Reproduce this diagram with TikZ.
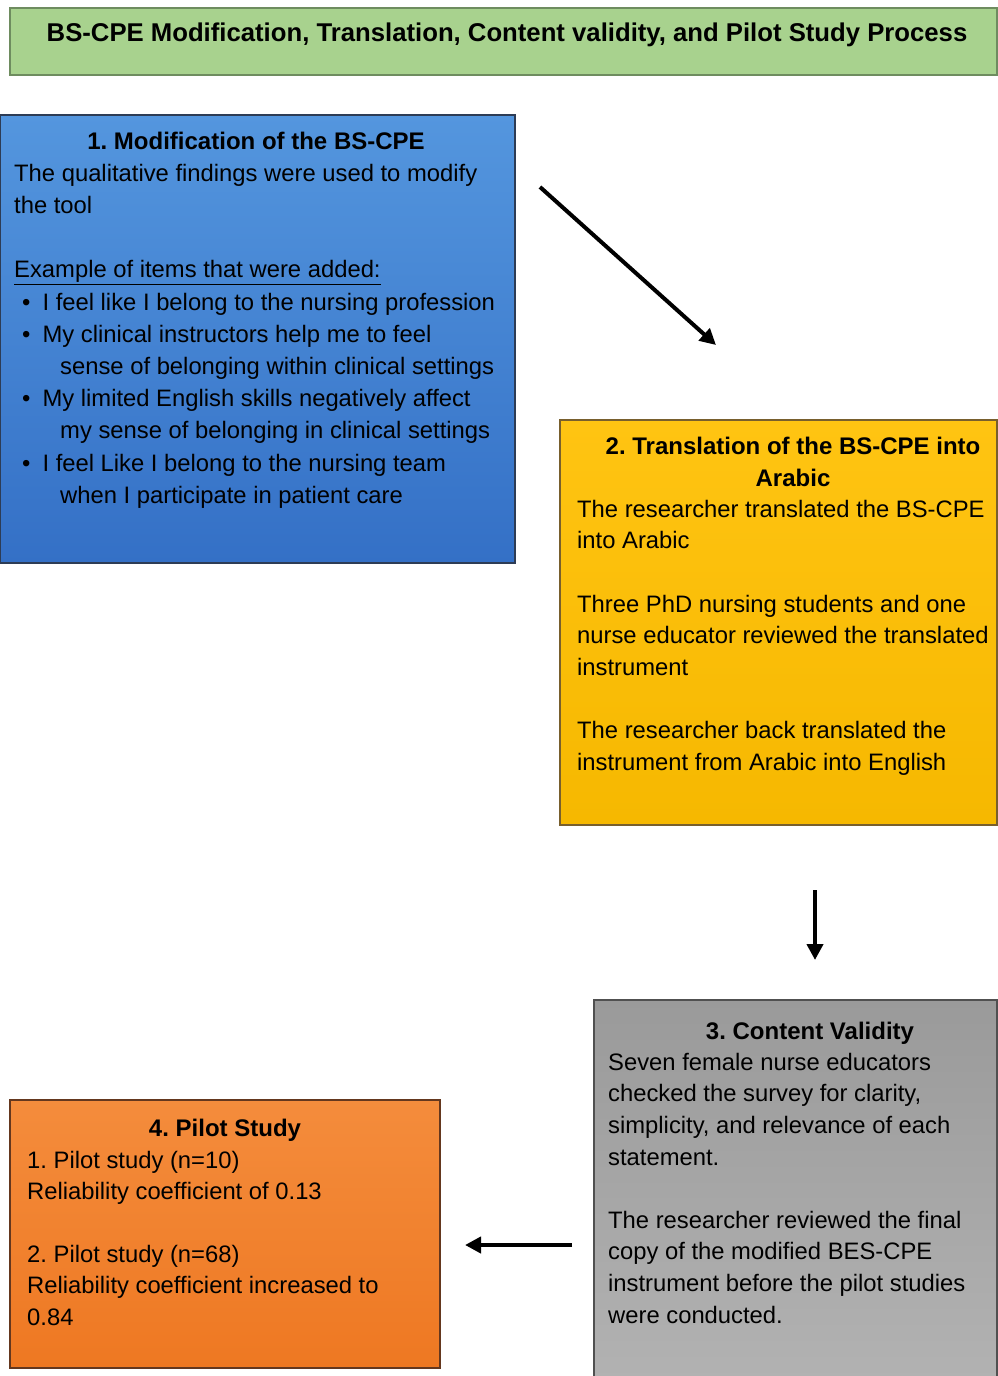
\documentclass[tikz,border=0pt]{standalone}
\usepackage{fontspec}
\setmainfont{Liberation Sans}
\usetikzlibrary{arrows.meta}
\frenchspacing

\definecolor{titlefill}{RGB}{168,210,142}
\definecolor{titledraw}{RGB}{110,140,95}
\definecolor{bluetop}{RGB}{84,150,222}
\definecolor{bluebot}{RGB}{52,112,198}
\definecolor{bluedraw}{RGB}{45,60,85}
\definecolor{yeltop}{RGB}{255,196,18}
\definecolor{yelbot}{RGB}{246,184,0}
\definecolor{yeldraw}{RGB}{120,95,45}
\definecolor{graytop}{RGB}{154,154,154}
\definecolor{graybot}{RGB}{178,178,178}
\definecolor{graydraw}{RGB}{80,80,80}
\definecolor{orgtop}{RGB}{244,140,60}
\definecolor{orgbot}{RGB}{238,120,34}
\definecolor{orgdraw}{RGB}{100,55,30}

\begin{document}
\begin{tikzpicture}[x=1pt,y=-1pt,
  panel/.style={draw, line width=1.5pt, inner sep=0pt, outer sep=0pt},
  heading/.style={font=\bfseries\fontsize{24}{32}\selectfont, inner sep=0pt, align=center, anchor=north},
  body/.style={font=\fontsize{23.8}{#1}\selectfont, inner sep=0pt, align=left, anchor=north west},
  flow/.style={line width=4pt, -{Triangle[length=16pt,width=16pt]}}
]
\useasboundingbox (0,0) rectangle (997,1376);

% title banner
\node[panel, draw=titledraw, fill=titlefill, minimum width=987pt, minimum height=67pt,
  anchor=north west] (title) at (10,8) {};
\node[font=\bfseries\fontsize{25.7}{30}\selectfont, inner sep=0pt, anchor=base] (titletext) at (507,41)
  {BS-CPE Modification, Translation, Content validity, and Pilot Study Process};

% step 1
\node[panel, draw=bluedraw, top color=bluetop, bottom color=bluebot,
  minimum width=515pt, minimum height=448pt, anchor=north west] (b1) at (0,115) {};
\node[heading] (h1) at (256,131) {\rule{0pt}{18pt}1. Modification of the BS-CPE};
\node[body=32.2] (t1) at (14,163) {\rule{0pt}{18pt}The qualitative findings were used to modify\\
the tool\\
\mbox{}\\
\underline{Example of items that were added:}\\
\hspace*{8pt}\textbullet\hspace{12pt}I feel like I belong to the nursing profession\\
\hspace*{8pt}\textbullet\hspace{12pt}My clinical instructors help me to feel\\
\hspace*{46pt}sense of belonging within clinical settings\\
\hspace*{8pt}\textbullet\hspace{12pt}My limited English skills negatively affect\\
\hspace*{46pt}my sense of belonging in clinical settings\\
\hspace*{8pt}\textbullet\hspace{12pt}I feel Like I belong to the nursing team\\
\hspace*{46pt}when I participate in patient care};

% step 2
\node[panel, draw=yeldraw, top color=yeltop, bottom color=yelbot,
  minimum width=437pt, minimum height=405pt, anchor=north west] (b2) at (560,420) {};
\node[heading] (h2) at (793,436) {\rule{0pt}{18pt}2. Translation of the BS-CPE into\\Arabic};
\node[body=31.6] (t2) at (577,499) {\rule{0pt}{18pt}The researcher translated the BS-CPE\\
into Arabic\\
\mbox{}\\
Three PhD nursing students and one\\
nurse educator reviewed the translated\\
instrument\\
\mbox{}\\
The researcher back translated the\\
instrument from Arabic into English};

% step 3
\node[panel, draw=graydraw, top color=graytop, bottom color=graybot,
  minimum width=403pt, minimum height=380pt, anchor=north west] (b3) at (594,1000) {};
\node[heading] (h3) at (810,1021) {\rule{0pt}{18pt}3. Content Validity};
\node[body=31.6] (t3) at (608,1052) {\rule{0pt}{18pt}Seven female nurse educators\\
checked the survey for clarity,\\
simplicity, and relevance of each\\
statement.\\
\mbox{}\\
The researcher reviewed the final\\
copy of the modified BES-CPE\\
instrument before the pilot studies\\
were conducted.};

% step 4
\node[panel, draw=orgdraw, top color=orgtop, bottom color=orgbot,
  minimum width=430pt, minimum height=268pt, anchor=north west] (b4) at (10,1100) {};
\node[heading] (h4) at (225,1118) {\rule{0pt}{18pt}4. Pilot Study};
\node[body=31.4] (t4) at (27,1150) {\rule{0pt}{18pt}1. Pilot study (n=10)\\
Reliability coefficient of 0.13\\
\mbox{}\\
2. Pilot study (n=68)\\
Reliability coefficient increased to\\
0.84};

% connectors between the steps
\coordinate (a1s) at (540,187);
\coordinate (a1e) at (716,345);
\coordinate (a2s) at (815,890);
\coordinate (a2e) at (815,960);
\coordinate (a3s) at (572,1245);
\coordinate (a3e) at (465,1245);
\draw[flow] (a1s) -- (a1e);
\draw[flow] (a2s) -- (a2e);
\draw[flow] (a3s) -- (a3e);
\end{tikzpicture}
\end{document}
